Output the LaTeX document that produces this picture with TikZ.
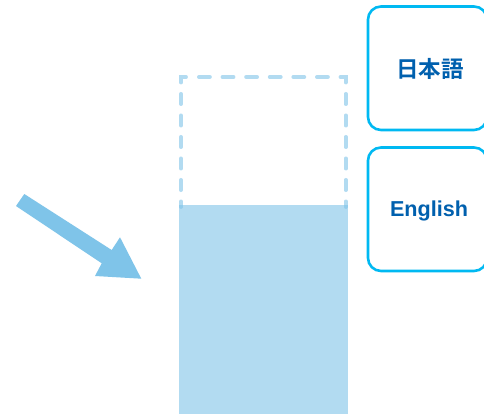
\documentclass[tikz,border=0pt]{standalone}
\usepackage{fontspec}
\setmainfont{Liberation Sans}
\newfontfamily\cjkjp{Noto Sans CJK JP}[BoldFont={Noto Sans CJK JP Bold}]
\definecolor{paleblue}{HTML}{7FC4E9}
\definecolor{boxline}{HTML}{00B9F2}
\definecolor{boxtext}{HTML}{0060AE}
\tikzset{
  x=1pt,y=-1pt,
  langbox/.style={draw=boxline,line width=2.6pt,rounded corners=13pt,fill=white,minimum width=119pt,minimum height=123.5pt,anchor=north west,inner sep=0pt,outer sep=0pt},
  langlabel/.style={text=boxtext,font=\bfseries\fontsize{21.6}{24}\selectfont,inner sep=0pt},
  jalabelstyle/.style={text=boxtext,font=\bfseries\fontsize{22.5}{24}\selectfont,inner sep=0pt},
  dashline/.style={draw=paleblue,opacity=0.6,line width=3.8pt,line cap=round},
  pour/.style={fill=paleblue,opacity=0.6,draw=none},
  bigarrow/.style={fill=paleblue,draw=none}
}
\begin{document}
\begin{tikzpicture}
\useasboundingbox (0,0) rectangle (484,414);
\fill[white] (0,0) rectangle (484,414);
\fill[pour] (179,205) rectangle (347.5,414);
% dashed outline
\draw[dashline] (181,82.5) -- (181,77) -- (186,77);
\draw[dashline] (340.5,77) -- (345.7,77) -- (345.7,82.5);
\draw[dashline,dash pattern=on 11pt off 12.6pt] (198.9,77) -- (330,77);
\draw[dashline,dash pattern=on 10.2pt off 11.3pt] (181,93.9) -- (181,207);
\draw[dashline,dash pattern=on 10.2pt off 11.3pt] (345.7,93.9) -- (345.7,207);
% arrow
\fill[bigarrow] (16,206) -- (24.3,194) -- (111.7,250) -- (120,237.3) -- (141.3,278.7) -- (95,276) -- (101.7,263.3) -- cycle;
% language boxes
\node[langbox] (ja) at (368,6.5) {};
\node[langbox] (en) at (368,147.5) {};
\node[jalabelstyle] (jalabel) at (430,68.5) {\cjkjp 日本語};
\node[langlabel] (enlabel) at (429,210.5) {English};
\end{tikzpicture}
\end{document}
